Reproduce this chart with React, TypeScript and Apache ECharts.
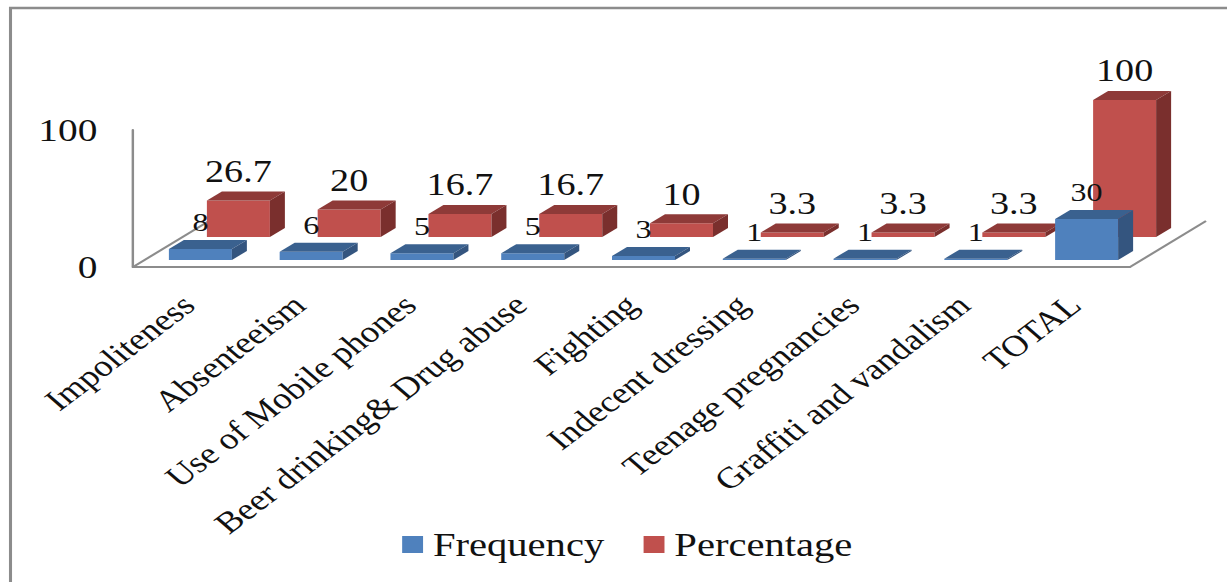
import React, { useEffect, useRef } from "react";
import * as echarts from "echarts";

const categories = ["Impoliteness", "Absenteeism", "Use of Mobile phones", "Beer drinking& Drug abuse", "Fighting", "Indecent dressing", "Teenage pregnancies", "Graffiti and vandalism", "TOTAL"];
const frequency = [8, 6, 5, 5, 3, 1, 1, 1, 30];
const percentage = [26.7, 20, 16.7, 16.7, 10, 3.3, 3.3, 3.3, 100];

const K = 1.23;
const W = 1227;
const H = 582;
const px = (v: number) => v / K;
const FONT = "'Liberation Serif', serif";

function bar3d(colors: string[], shiftX: number, shiftY: number, fontSize: number, labelUp: number) {
  return (params: any, api: any) => {
    const idx = api.value(0);
    const val = api.value(1);
    const [cx, y0] = api.coord([idx, 0]);
    const [, y1] = api.coord([idx, val]);
    const w = px(63);
    const dx = px(15);
    const dy = 9;
    const xc = cx + px(shiftX);
    const l = xc - w / 2;
    const r = xc + w / 2;
    const b = y0 - shiftY;
    const t = y1 - shiftY;
    return {
      type: "group",
      children: [
        { type: "polygon", shape: { points: [[l, b], [r, b], [r, t], [l, t]] }, style: { fill: colors[0] } },
        { type: "polygon", shape: { points: [[l, t], [r, t], [r + dx, t - dy], [l + dx, t - dy]] }, style: { fill: colors[1] } },
        { type: "polygon", shape: { points: [[r, b], [r + dx, b - dy], [r + dx, t - dy], [r, t]] }, style: { fill: colors[2] } },
        {
          type: "text",
          style: {
            text: String(val),
            x: xc,
            y: t - labelUp,
            align: "center",
            verticalAlign: "middle",
            fontSize,
            fontFamily: FONT,
            fill: "#111",
          },
        },
      ],
    };
  };
}

function floor(params: any, api: any) {
  const band = api.size([1, 0])[0];
  const [x0, y0] = api.coord([0, 0]);
  const [x8] = api.coord([categories.length - 1, 0]);
  const left = x0 - band / 2;
  const right = x8 + band / 2;
  const style = { stroke: "#8c8c8c", lineWidth: 2, fill: "none" };
  return {
    type: "group",
    children: [
      { type: "line", shape: { x1: left, y1: y0, x2: left + px(76), y2: y0 - 46 }, style },
      { type: "line", shape: { x1: right, y1: y0, x2: right + px(76), y2: y0 - 46 }, style },
    ],
  };
}

export default function App() {
  const ref = useRef<HTMLDivElement>(null);
  useEffect(() => {
    document.body.style.margin = "0";
    const chart = echarts.init(ref.current!, null, { renderer: "svg" });
    chart.setOption({
      animation: false,
      backgroundColor: "#fff",
      textStyle: { fontFamily: FONT },
      grid: { left: px(133), top: 130, width: px(997), height: 137, containLabel: false },
      legend: {
        data: ["Frequency", "Percentage"],
        left: px(396),
        top: 523,
        icon: "rect",
        itemWidth: 17,
        itemHeight: 17,
        itemGap: 32,
        textStyle: { fontFamily: FONT, fontSize: 33, color: "#111", padding: [0, 0, 0, 3] },
      },
      xAxis: {
        type: "category",
        data: categories,
        axisLine: { lineStyle: { color: "#8c8c8c", width: 2 } },
        axisTick: { show: false },
        axisLabel: { interval: 0, rotate: 43, margin: 33, fontSize: 30, fontFamily: FONT, color: "#111" },
      },
      yAxis: {
        type: "value",
        min: 0,
        max: 100,
        interval: 100,
        splitLine: { show: false },
        axisLine: { show: true, lineStyle: { color: "#8c8c8c", width: 2 } },
        axisTick: { show: false },
        axisLabel: { margin: 29, fontSize: 32, fontFamily: FONT, color: "#111" },
      },
      graphic: [
        {
          type: "polyline",
          shape: { points: [[px(10.5), H + 5], [px(10.5), 8], [W / K + 5, 8]] },
          style: { fill: "none", stroke: "#8c8c8c", lineWidth: 2.5 },
          silent: true,
        },
      ],
      series: [
        { type: "custom", name: "floor", silent: true, z: 1, renderItem: floor, data: [[0]] },
        {
          type: "custom",
          name: "Percentage",
          z: 2,
          itemStyle: { color: "#C0504D" },
          renderItem: bar3d(["#C0504D", "#8E3A38", "#7A2F2D"], 50, 30, 31, 29),
          data: percentage.map((v, i) => [i, v]),
          encode: { x: 0, y: 1 },
        },
        {
          type: "custom",
          name: "Frequency",
          z: 3,
          itemStyle: { color: "#4F81BD" },
          renderItem: bar3d(["#4F81BD", "#3A618F", "#34557F"], 12, 7, 26, 27),
          data: frequency.map((v, i) => [i, v]),
          encode: { x: 0, y: 1 },
        },
      ],
    });
    return () => chart.dispose();
  }, []);
  return (
    <div style={{ position: "fixed", left: 0, top: 0, width: W, height: H, overflow: "hidden", background: "#fff" }}>
      <div
        ref={ref}
        style={{ width: W / K, height: H, transform: `scaleX(${K})`, transformOrigin: "0 0" }}
      />
    </div>
  );
}
